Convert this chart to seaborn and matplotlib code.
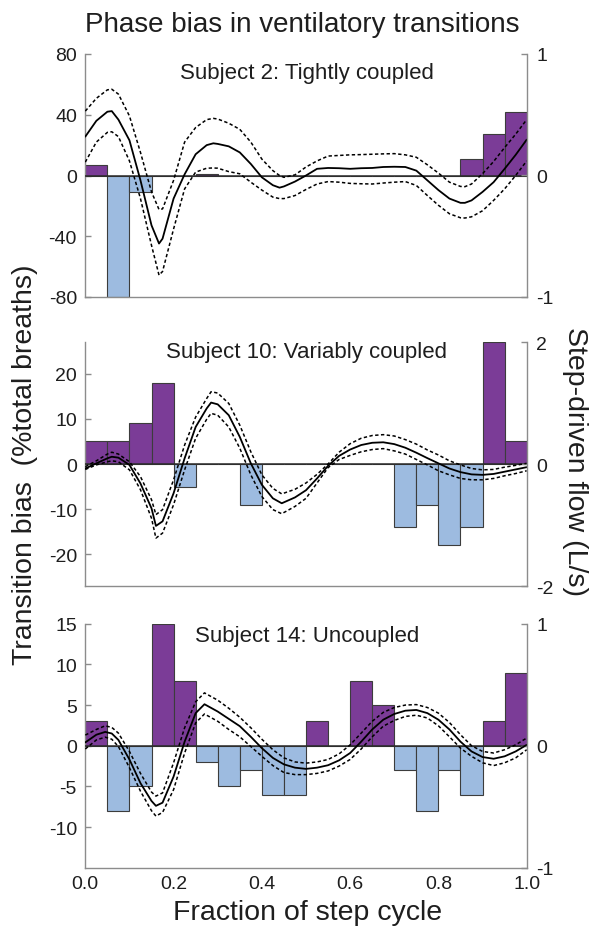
import numpy as np
import pandas as pd
import matplotlib
matplotlib.use("Agg")
import matplotlib.pyplot as plt
import seaborn as sns

sns.set_style("white")
plt.rcParams["font.family"] = ["Liberation Sans", "DejaVu Sans"]
plt.rcParams["axes.unicode_minus"] = False

# ---------------- data ----------------
bin_centers = [0.025, 0.075, 0.125, 0.175, 0.225, 0.275, 0.325, 0.375, 0.425, 0.475,
               0.525, 0.575, 0.625, 0.675, 0.725, 0.775, 0.825, 0.875, 0.925, 0.975]

titles = ["Subject 2: Tightly coupled", "Subject 10: Variably coupled", "Subject 14: Uncoupled"]

# transition bias (% total breaths) per phase bin
bias_s2 = [7, -80, -11, 0, 0, 1, 0, 0, 0, 0, 0, 0, 0, 0, 0, 0, 0, 11, 27, 42]
bias_s10 = [5, 5, 9, 18, -5, 0, 0, -9, 0, 0, 0, 0, 0, 0, -14, -9, -18, -14, 27, 5]
bias_s14 = [3, -8, -5, 15, 8, -2, -5, -3, -6, -6, 3, 0, 8, 5, -3, -8, -3, -6, 3, 9]

# step-driven flow (L/s): mean and confidence bounds
phase_s2 = [0, .025, .05, .06, .075, .1, .125, .15, .167, .175, .2, .225, .25, .275, .29, .3,
            .325, .35, .375, .4, .425, .44, .45, .475, .5, .525, .55, .575, .6, .625, .65,
            .675, .7, .725, .75, .775, .8, .825, .85, .86, .875, .9, .925, .95, .975, 1.0]
flow_s2 = [0.32, 0.45, 0.525, 0.53, 0.46, 0.29, -0.04, -0.41, -0.56, -0.52, -0.19, 0.01,
           0.175, 0.25, 0.265, 0.26, 0.24, 0.19, 0.095, -0.015, -0.08, -0.1, -0.09, -0.05,
           0.0, 0.055, 0.062, 0.06, 0.055, 0.06, 0.062, 0.07, 0.072, 0.07, 0.04, -0.04,
           -0.12, -0.19, -0.225, -0.225, -0.205, -0.135, -0.055, 0.055, 0.17, 0.295]
flow_hi_s2 = [0.53, 0.635, 0.705, 0.71, 0.67, 0.49, 0.19, -0.135, -0.28, -0.275, -0.04,
              0.275, 0.395, 0.46, 0.47, 0.465, 0.43, 0.38, 0.275, 0.135, 0.04, 0.0, -0.015,
              0.005, 0.07, 0.12, 0.16, 0.165, 0.17, 0.172, 0.175, 0.178, 0.18, 0.17, 0.15,
              0.088, 0.02, -0.055, -0.09, -0.092, -0.07, 0.015, 0.115, 0.23, 0.34, 0.46]
flow_lo_s2 = [0.11, 0.275, 0.355, 0.36, 0.32, 0.12, -0.19, -0.575, -0.82, -0.79, -0.44,
              -0.11, 0.028, 0.06, 0.062, 0.06, 0.032, 0.014, -0.055, -0.12, -0.178, -0.19,
              -0.19, -0.165, -0.115, -0.07, -0.05, -0.055, -0.065, -0.068, -0.07, -0.062,
              -0.055, -0.05, -0.082, -0.165, -0.245, -0.315, -0.348, -0.35, -0.34, -0.29,
              -0.205, -0.11, 0.0, 0.12]

phase_s10 = [0, .025, .05, .06, .075, .1, .125, .15, .16, .175, .2, .225, .25, .275, .285,
             .3, .325, .35, .375, .4, .425, .445, .475, .5, .525, .55, .575, .6, .625, .65,
             .675, .7, .725, .75, .775, .8, .825, .85, .875, .9, .925, .95, .975, 1.0]
flow_s10 = [-0.074, 0.011, 0.093, 0.119, 0.104, -0.015, -0.319, -0.726, -1.015, -0.94,
            -0.48, 0.093, 0.607, 0.911, 1.007, 0.978, 0.8, 0.444, 0.011, -0.341, -0.563,
            -0.644, -0.548, -0.43, -0.237, -0.03, 0.133, 0.237, 0.311, 0.348, 0.356, 0.326,
            0.267, 0.185, 0.096, 0.011, -0.074, -0.133, -0.17, -0.178, -0.163, -0.126,
            -0.089, -0.052]
flow_hi_s10 = [-0.044, 0.052, 0.163, 0.193, 0.163, 0.037, -0.207, -0.585, -0.83, -0.748,
               -0.259, 0.311, 0.77, 1.074, 1.185, 1.163, 0.993, 0.637, 0.2, -0.178, -0.4,
               -0.49, -0.415, -0.311, -0.17, 0.0, 0.193, 0.333, 0.422, 0.467, 0.481, 0.459,
               0.4, 0.326, 0.23, 0.148, 0.052, -0.015, -0.074, -0.096, -0.089, -0.052,
               -0.022, 0.011]
flow_lo_s10 = [-0.089, -0.015, 0.037, 0.052, 0.037, -0.096, -0.422, -0.889, -1.215, -1.133,
               -0.667, -0.096, 0.422, 0.733, 0.83, 0.8, 0.607, 0.259, -0.178, -0.533, -0.748,
               -0.815, -0.696, -0.563, -0.311, -0.059, 0.074, 0.141, 0.2, 0.237, 0.252, 0.215,
               0.163, 0.074, -0.015, -0.111, -0.178, -0.237, -0.259, -0.259, -0.237, -0.193,
               -0.156, -0.111]

phase_s14 = [0, .025, .045, .06, .075, .1, .125, .15, .16, .175, .2, .225, .25, .27, .3,
             .325, .35, .375, .4, .425, .45, .475, .5, .525, .55, .575, .6, .625, .65, .675,
             .7, .725, .75, .775, .8, .825, .85, .875, .9, .925, .95, .975, 1.0]
flow_s14 = [0.027, 0.09, 0.113, 0.1, 0.047, -0.113, -0.307, -0.453, -0.493, -0.467, -0.253,
            0.033, 0.267, 0.34, 0.28, 0.22, 0.16, 0.073, -0.02, -0.1, -0.153, -0.18, -0.19,
            -0.18, -0.16, -0.12, -0.06, 0.033, 0.133, 0.213, 0.26, 0.287, 0.293, 0.267,
            0.213, 0.133, 0.033, -0.047, -0.093, -0.107, -0.087, -0.047, 0.007]
flow_hi_s14 = [0.087, 0.133, 0.163, 0.15, 0.103, -0.047, -0.227, -0.38, -0.413, -0.387,
               -0.14, 0.147, 0.36, 0.433, 0.373, 0.307, 0.233, 0.147, 0.053, -0.033, -0.1,
               -0.133, -0.143, -0.133, -0.113, -0.067, 0.007, 0.103, 0.2, 0.273, 0.313,
               0.333, 0.337, 0.313, 0.267, 0.19, 0.09, 0.0, -0.047, -0.06, -0.033, 0.007,
               0.063]
flow_lo_s14 = [-0.027, 0.047, 0.07, 0.053, -0.007, -0.18, -0.373, -0.533, -0.577, -0.547,
               -0.36, -0.06, 0.187, 0.26, 0.2, 0.133, 0.073, -0.007, -0.087, -0.163, -0.22,
               -0.237, -0.237, -0.227, -0.207, -0.167, -0.113, -0.027, 0.073, 0.16, 0.207,
               0.24, 0.25, 0.227, 0.163, 0.073, -0.02, -0.087, -0.14, -0.163, -0.14, -0.1,
               -0.033]

left_ticks = [[-80, -40, 0, 40, 80], [-20, -10, 0, 10, 20], [-10, -5, 0, 5, 10, 15]]
left_lims = [(-80, 80), (-27, 27), (-15, 15)]
right_ticks = [[-1, 0, 1], [-2, 0, 2], [-1, 0, 1]]
right_lims = [(-1, 1), (-2, 2), (-1, 1)]
x_ticks = [0.0, 0.2, 0.4, 0.6, 0.8, 1.0]

# ---------------- style ----------------
PURPLE = "#7B3C97"
BLUE = "#9DBBE0"
EDGE = "#3c3c3c"
GRAY = "#8c8c8c"
TXT = "#1e1e1e"

W, H = 589, 928
fig = plt.figure(figsize=(W / 100, H / 100), dpi=100)

ax_left = 85.3 / W
ax_w = 441.4 / W
panel_px = [(55, 298), (343, 587), (624.7, 868.7)]
title_y = [0.901, 0.9385, 0.929]

biases = [bias_s2, bias_s10, bias_s14]
phases = [phase_s2, phase_s10, phase_s14]
flows = [flow_s2, flow_s10, flow_s14]
his = [flow_hi_s2, flow_hi_s10, flow_hi_s14]
los = [flow_lo_s2, flow_lo_s10, flow_lo_s14]

for i in range(3):
    top, bot = panel_px[i]
    ax = fig.add_axes([ax_left, 1 - bot / H, ax_w, (bot - top) / H])
    df = pd.DataFrame({
        "phase": bin_centers,
        "bias": biases[i],
        "dir": ["pos" if b >= 0 else "neg" for b in biases[i]],
    })
    sns.barplot(data=df, x="phase", y="bias", hue="dir", hue_order=["pos", "neg"],
                palette={"pos": PURPLE, "neg": BLUE}, native_scale=True, width=1,
                dodge=False, errorbar=None, legend=False, saturation=1,
                edgecolor=EDGE, linewidth=0.8, ax=ax)
    ax.axhline(0, color="#2a2a2a", lw=1.1, zorder=5)
    ax.set_xlim(0, 1)
    ax.set_ylim(*left_lims[i])
    ax.set_yticks(left_ticks[i])
    ax.set_xticks(x_ticks)
    ax.set_xlabel("")
    ax.set_ylabel("")
    for s in ["top", "right"]:
        ax.spines[s].set_visible(False)
    for s in ["left", "bottom"]:
        ax.spines[s].set_color(GRAY)
        ax.spines[s].set_linewidth(1.0)
    ax.tick_params(axis="both", direction="in", length=4.5, width=1.0, color=GRAY,
                   labelsize=14, labelcolor=TXT, pad=6)
    if i < 2:
        ax.tick_params(axis="x", labelbottom=False)
    else:
        ax.set_xticklabels([f"{t:.1f}" for t in x_ticks])
        ax.tick_params(axis="x", pad=5)

    ax2 = ax.twinx()
    sns.lineplot(x=phases[i], y=his[i], ax=ax2, color="black", lw=1.1,
                 linestyle=(0, (2.2, 1.6)))
    sns.lineplot(x=phases[i], y=los[i], ax=ax2, color="black", lw=1.1,
                 linestyle=(0, (2.2, 1.6)))
    sns.lineplot(x=phases[i], y=flows[i], ax=ax2, color="black", lw=1.3)
    ax2.set_xlim(0, 1)
    ax2.set_ylim(*right_lims[i])
    ax2.set_yticks(right_ticks[i])
    ax2.set_xlabel("")
    ax2.set_ylabel("")
    for s in ["top", "left", "bottom"]:
        ax2.spines[s].set_visible(False)
    ax2.spines["right"].set_color(GRAY)
    ax2.spines["right"].set_linewidth(1.0)
    ax2.tick_params(axis="y", direction="in", length=4.5, width=1.0, color=GRAY,
                    labelsize=14, labelcolor=TXT, pad=7)

    ax.text(0.502, title_y[i], titles[i], transform=ax.transAxes, ha="center",
            va="baseline", fontsize=16, color=TXT, zorder=10)

fig.text(302 / W, 1 - 32 / H, "Phase bias in ventilatory transitions", ha="center",
         va="baseline", fontsize=20, color=TXT)
fig.text(307.5 / W, 1 - 920 / H, "Fraction of step cycle", ha="center", va="baseline",
         fontsize=20.5, color=TXT)
fig.text(25 / W, 1 - 465 / H, "Transition bias  (%total breaths)", ha="center",
         va="center", rotation=90, fontsize=20.5, color=TXT)
fig.text(575 / W, 1 - 462 / H, "Step-driven flow (L/s)", ha="center", va="center",
         rotation=270, fontsize=20.5, color=TXT)

fig.savefig("out.png", dpi=100)
